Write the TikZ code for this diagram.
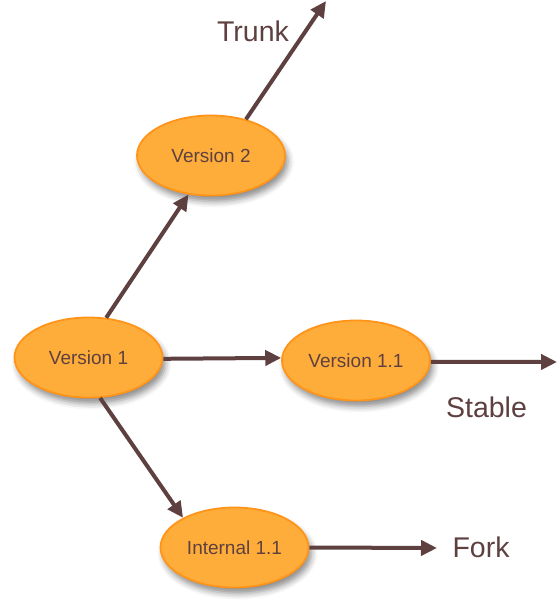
\documentclass[tikz,border=0pt]{standalone}
\usepackage{fontspec}
\setmainfont{Liberation Sans}
\usetikzlibrary{shapes.geometric,arrows.meta,shadows.blur}
\definecolor{brn}{HTML}{5E4040}
\definecolor{orfill}{HTML}{FFAD3A}
\definecolor{orline}{HTML}{FF9418}
\tikzset{
  ver/.style={ellipse, draw=orline, line width=1.8pt, fill=orfill,
    minimum width=148pt, minimum height=80pt, inner sep=0pt,
    text=brn, font=\fontsize{19}{21}\selectfont,
    blur shadow={shadow xshift=3pt, shadow yshift=-6pt, shadow blur radius=6pt, shadow opacity=45}},
  lbl/.style={text=brn, font=\fontsize{28.5}{31}\selectfont, inner sep=0pt},
  conn/.style={draw=brn, line width=4pt, -{Triangle[length=16pt,width=15pt]}}
}
\begin{document}
\begin{tikzpicture}[x=1pt,y=-1pt]
\useasboundingbox (0,0) rectangle (557,609);
\node[ver] (v1) at (88.5,357.5) {Version 1};
\node[ver] (v2) at (211,155.5) {Version 2};
\node[ver] (v11) at (356,360.5) {Version 1.1};
\node[ver] (int) at (234.5,547.5) {Internal 1.1};
\node[lbl] (trunk) at (253,31) {Trunk};
\node[lbl] (stable) at (486.5,407) {Stable};
\node[lbl] (fork) at (481,547) {Fork};
\coordinate (trunkend) at (326,1);
\coordinate (stableend) at (557,362);
\coordinate (forkend) at (437,548);
\draw[conn] (v1.66) -- (v2.240);
\draw[conn] (v1.-1.5) -- (v11.178.5);
\draw[conn] (v1.286) -- (int.150);
\draw[conn] (v2.46) -- (trunkend);
\draw[conn] (v11.-1) -- (stableend);
\draw[conn] (int.east) -- (forkend);
\end{tikzpicture}
\end{document}
